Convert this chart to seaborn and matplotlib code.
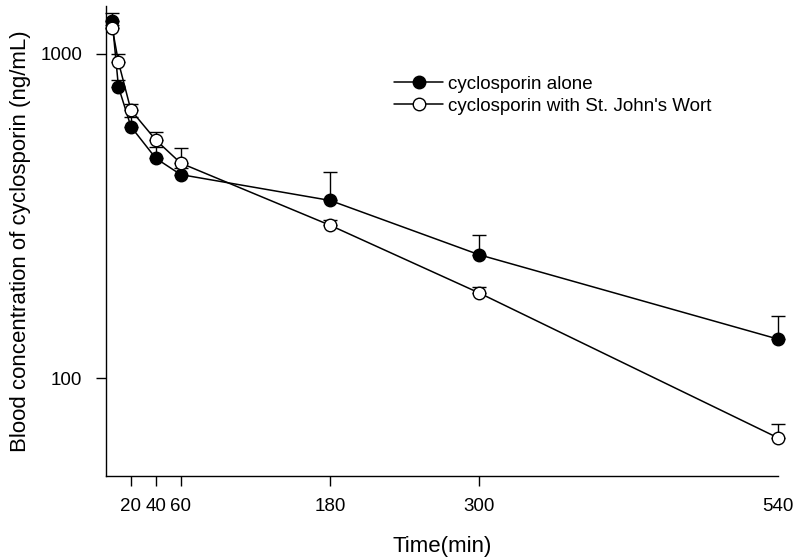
import matplotlib
matplotlib.use("Agg")
import matplotlib.pyplot as plt
import seaborn as sns
import pandas as pd

# data
time_min = [5, 10, 20, 40, 60, 180, 300, 540]
alone = [1260, 790, 596, 476, 424, 353, 240, 132]
alone_sd = [73, 40, 40, 41, 20, 80, 36, 23]
wort = [1200, 942, 670, 542, 460, 296, 183, 65.5]
wort_sd = [25, 58, 29, 30, 51, 12, 8, 6.6]
labels = ["cyclosporin alone", "cyclosporin with St. John's Wort"]

sns.set_style("ticks")
plt.rcParams["font.family"] = ["Liberation Sans", "DejaVu Sans"]
plt.rcParams["text.color"] = "black"
plt.rcParams["axes.labelcolor"] = "black"
plt.rcParams["xtick.color"] = "black"
plt.rcParams["ytick.color"] = "black"

df = pd.DataFrame({
    "time": time_min * 2,
    "conc": alone + wort,
    "group": [labels[0]] * len(time_min) + [labels[1]] * len(time_min),
})

fig = plt.figure(figsize=(7.94, 5.6), dpi=100)
ax = fig.add_axes([0.1335, 0.15, 0.8465, 0.839])

# upper-only error bars
for vals, sd in [(alone, alone_sd), (wort, wort_sd)]:
    eb = ax.errorbar(time_min, vals, yerr=[[0] * len(sd), sd], fmt="none",
                     ecolor="black", elinewidth=1, capsize=5, capthick=1, zorder=1)
    for art in list(eb.lines[1]) + list(eb.lines[2]):
        art.set_clip_on(False)

sns.lineplot(data=df, x="time", y="conc", hue="group", style="group",
             palette=["black", "black"], markers=["o", "o"], dashes=False,
             linewidth=1.1, markersize=9, ax=ax, legend=False, zorder=3)
lines = ax.get_lines()[-2:]
lines[0].set_markerfacecolor("black")
lines[0].set_markeredgecolor("black")
lines[1].set_markerfacecolor("white")
lines[1].set_markeredgecolor("black")
for ln in lines:
    ln.set_markeredgewidth(1)
    ln.set_clip_on(False)

ax.set_yscale("log")
ax.set_ylim(50, 1400)
ax.set_xlim(0, 540)
ax.set_yticks([100, 1000])
ax.set_yticklabels(["100", "1000"])
ax.yaxis.set_minor_locator(matplotlib.ticker.NullLocator())
ax.set_xticks([20, 40, 60, 180, 300, 540])
ax.set_xticklabels(["20", "40", "60", "180", "300", "540"])
ax.xaxis.get_major_ticks()[-1].tick1line.set_visible(False)
ax.tick_params(axis="both", labelsize=13.5, length=7, width=1, color="black")
ax.tick_params(axis="y", pad=10)
ax.tick_params(axis="x", pad=9)

ax.set_xlabel("Time(min)", fontsize=16, labelpad=15)
ax.set_ylabel("Blood concentration of cyclosporin (ng/mL)", fontsize=16, labelpad=7)

sns.despine(ax=ax)
for s in ["left", "bottom"]:
    ax.spines[s].set_color("black")
    ax.spines[s].set_linewidth(1)

ax.legend(lines, labels, loc="upper left", bbox_to_anchor=(0.418, 0.868),
          frameon=False, fontsize=13.5, handlelength=2.6, handletextpad=0.25,
          labelspacing=0.25, borderaxespad=0)

fig.savefig("out.png", dpi=100)
